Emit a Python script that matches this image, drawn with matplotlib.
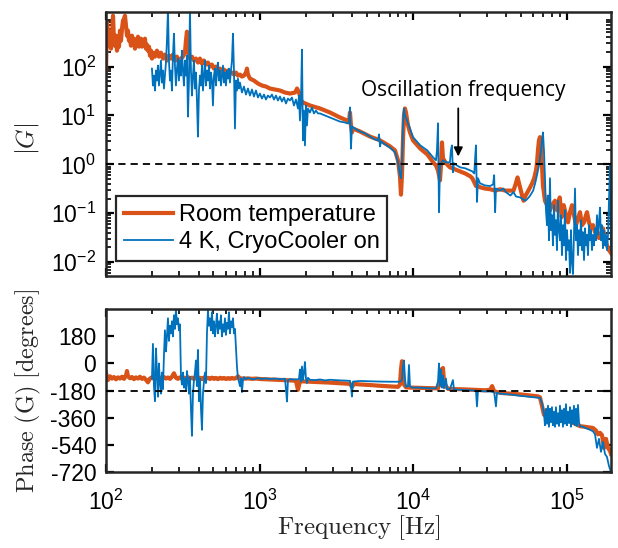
import matplotlib
matplotlib.use("Agg")
import matplotlib.pyplot as plt
from matplotlib.ticker import LogLocator, NullFormatter, FixedLocator

# ---------------- data ----------------
room_mag_f = [100, 101.5, 103, 104.6, 106.2, 107.8, 109.4, 111.1, 112.7, 114.4, 116.2, 117.9, 119.7, 121.5,
              123.3, 125.2, 127.1, 129, 131, 132.9, 134.9, 137, 139, 141.1, 143.3, 145.4, 147.6, 149.8, 152.1,
              154.4, 156.7, 159.1, 161.5, 163.9, 166.4, 168.9, 171.4, 174, 176.6, 179.3, 182, 184.8, 187.5,
              190.4, 193.3, 196.2, 199.1, 202.1, 208.3, 214.6, 221.1, 227.9, 234.8, 241.9, 249.3, 256.9,
              264.7, 272.7, 281, 289.6, 298.4, 307.5, 316.8, 326.5, 331.4, 336.4, 341.5, 346.7, 351.9, 362.6,
              373.6, 385, 396.7, 408.8, 421.3, 434.1, 447.2, 460.8, 474.8, 489.3, 504.2, 519.5, 535.3, 551.6,
              568.4, 585.7, 603.5, 621.9, 640.8, 660.3, 680.4, 701, 722.4, 744.3, 767, 790.3, 814.4, 826.7,
              839.2, 864.7, 918.1, 974.8, 1035, 1099, 1167, 1258, 1357, 1461, 1577, 1700, 1751, 1805, 1859,
              1916, 2127, 2470, 2870, 3334, 3700, 3812, 3870, 3927, 3987, 4047, 4500, 5227, 6071, 7052, 7600,
              7943, 8185, 8309, 8434, 8561, 8690, 8822, 8955, 9228, 9509, 9950, 11100, 12320, 13450, 14040,
              14470, 14910, 15130, 15360, 15590, 16310, 17300, 18670, 20150, 21750, 23470, 24180, 24920,
              25560, 26340, 27150, 29260, 31580, 34060, 36750, 39650, 42780, 44870, 46240, 47650, 49090,
              50590, 52130, 53710, 55350, 57570, 59320, 61130, 62810, 63760, 64720, 65700, 66690, 67690,
              68710, 69750, 71870, 74070, 77460, 79820, 83500, 86030, 89650, 92380, 95190, 98460, 101500,
              104600, 107800, 111100, 114400, 117900, 121500, 125200, 129000, 132900, 134900, 139000,
              143300, 147600, 152100, 156700, 161500, 166400, 171400, 176600, 182000, 187500, 193200]
room_mag = [83, 790, 543, 268, 373, 233, 429, 1100, 339, 268, 429, 212, 309, 256,
            543, 339, 597, 870, 954, 1100, 687, 429, 543, 339, 373, 268, 429, 309, 373,
            233, 339, 281, 409, 256, 309, 373, 256, 339, 281, 373, 233, 281, 212,
            256, 168, 212, 146, 193, 160, 212, 160, 193, 146, 176, 133, 168,
            146, 176, 133, 160, 121, 146, 160, 193, 339, 518, 268, 168, 146, 160,
            133, 146, 121, 146, 115, 133, 110, 121, 100, 110, 91, 100, 83, 91,
            79, 87, 75.5, 83, 72, 75.5, 68.7, 75.5, 65.5, 68.7, 62.5, 65.5, 75.5, 91,
            68.7, 56.9, 51.8, 45, 41, 39.1, 35.6, 34, 32.4, 29.5, 28.1, 29.5, 35.6, 29.5, 20.2,
            18.4, 16, 13.9, 11.5, 9.1, 7.9, 7.5, 11.5, 6.25, 4.5, 5.4, 4.7, 3.7, 3.1, 2.33, 1.93,
            1.21, 0.57, 0.24, 0.6, 3.1, 10, 13.9, 11.5, 6.25, 4.5, 3.1, 2.1, 1.6, 1.1, 0.95,
            0.75, 0.47, 0.95, 2.81, 1.33, 1.05, 0.87, 0.79, 0.72, 0.65, 0.57, 0.52, 0.43,
            0.36, 0.36, 0.34, 0.32, 0.31, 0.29, 0.31, 0.29, 0.29, 0.29, 0.39, 0.54, 0.37,
            0.256, 0.18, 0.23, 0.27, 0.34, 0.41, 0.52, 0.75, 1.05, 1.93, 3.1, 3.6, 2.44,
            0.95, 0.37, 0.18, 0.146, 0.115, 0.146, 0.18, 0.115, 0.21, 0.083, 0.146, 0.091, 0.065,
            0.105, 0.146, 0.091, 0.057, 0.079, 0.105, 0.057, 0.065, 0.091, 0.105, 0.065,
            0.049, 0.057, 0.041, 0.045, 0.031, 0.036, 0.049, 0.031, 0.022, 0.0176, 0.0153]

cryo_mag_f = [199.1, 202.1, 205.2, 208.3, 211.4, 214.6, 217.8, 221.1, 224.5, 227.9, 231.3, 234.8, 238.3,
              241.9, 245.6, 249.3, 253.1, 256.9, 260.8, 264.7, 268.7, 272.7, 276.9, 281, 285.3, 289.6, 294,
              298.4, 302.9, 307.5, 312.1, 316.8, 321.6, 326.5, 331.4, 336.4, 341.5, 346.7, 351.9, 357.2,
              362.6, 368.1, 373.6, 379.3, 385, 390.8, 396.7, 402.7, 408.8, 415, 421.3, 427.6, 434.1, 440.6,
              447.2, 454, 460.8, 467.8, 474.8, 482, 489.3, 496.7, 504.2, 511.8, 519.5, 527.4, 535.3, 543.4,
              551.6, 560, 568.4, 577, 585.7, 594.6, 603.5, 612.7, 621.9, 631.3, 640.8, 650.5, 660.3, 670.3,
              680.4, 690.7, 701, 711.6, 722.4, 733.3, 744.3, 767, 790.3, 814.4, 839.2, 864.7, 891, 918.1,
              946, 974.8, 1004, 1035, 1067, 1099, 1132, 1167, 1202, 1239, 1277, 1315, 1355, 1396, 1439,
              1483, 1528, 1574, 1622, 1672, 1723, 1775, 1802, 1829, 1857, 1885, 1913, 1942, 1971, 2001,
              2031, 2062, 2124, 2189, 2256, 2325, 2396, 2469, 2660, 2870, 3090, 3330, 3590, 3700, 3810,
              3870, 3927, 3987, 4170, 4500, 4850, 5227, 5630, 5890, 5980, 6071, 6160, 6540, 7052, 7600,
              7943, 8185, 8309, 8434, 8561, 8690, 8822, 9090, 9509, 9950, 11100, 12320, 13450, 14040,
              14250, 14470, 14690, 14910, 15590, 16310, 17300, 17560, 17830, 18100, 18370, 19220, 20150,
              21750, 23470, 24180, 24920, 25300, 25560, 25950, 26340, 27150, 29260, 31580, 33060, 33560,
              34060, 34490, 36750, 38470, 40070, 42780, 44870, 46550, 49580, 52130, 53710, 56290, 57570,
              60200, 62040, 63760, 65700, 67690, 68710, 69750, 70800, 71870, 72970, 74070, 75190, 76320,
              77460, 78630, 79820, 81020, 82250, 83490, 84760, 86030, 87330, 88650, 89990, 91350, 92730,
              94130, 95550, 96990, 98460, 99950, 101500, 103000, 104600, 106100, 107700, 109400, 111000,
              112700, 114400, 116100, 117900, 119700, 121500, 123300, 125200, 127000, 129000, 130900,
              132900, 134900, 136900, 139000, 141100, 143300, 145400, 147600, 149800, 152100, 154300,
              156700, 159100, 161500, 163900, 166400, 168900, 171400, 174000, 176600, 179300, 182000,
              184800, 187500, 190400, 193200]
cryo_mag = [91, 41, 65.5, 32.4, 83, 51.8, 105, 41, 75.5, 133, 47.1, 83, 35.6,
            65.5, 121, 339, 1500, 133, 51.8, 83, 32.4, 168, 471, 105, 41, 91, 146,
            51.8, 133, 65.5, 212, 83, 41, 133, 65.5, 168, 9.5, 51.8, 1500, 83,
            25.6, 65.5, 133, 35.6, 75.5, 20.2, 3.7, 32.4, 65.5, 41, 105, 32.4, 65.5, 133,
            41, 83, 51.8, 105, 35.6, 75.5, 51.8, 16, 65.5, 91, 41, 75.5, 121, 51.8,
            83, 41, 65.5, 105, 47.1, 75.5, 41, 83, 56.9, 91, 47.1, 83, 133, 471,
            83, 5.4, 51.8, 32.4, 56.9, 35.6, 47.1, 29.5, 39.1, 26.8, 35.6, 25.6, 34, 24.4,
            32.4, 23.3, 28.1, 22.2, 26.8, 21.2, 25.6, 23.3, 26.8, 21.2, 25.6, 20.2, 24.4, 19.3, 23.3,
            17.6, 22.2, 20.2, 23.3, 16, 21.2, 13.9, 25.6, 7.9, 20.2, 222, 3.1, 12.6, 2.44, 16,
            6.25, 13.9, 11.5, 14.6, 11, 12.6, 11, 11, 10, 9.1, 8.3, 7.5, 7.2, 6.9, 6.9,
            14.6, 2.1, 5.96, 5.4, 4.7, 4.3, 3.7, 3.24, 3.1, 4.1, 2.33, 2.95, 2.56, 2.2, 1.76,
            1.1, 0.6, 0.52, 1.21, 6.25, 13.9, 10, 7.9, 5.4, 3.6, 2.44, 1.93, 1.39, 1.21,
            1.93, 6.9, 0.105, 0.95, 1.21, 1.1, 1.1, 1.93, 2.44, 0.69, 1.05, 0.95, 0.87,
            0.83, 0.75, 0.72, 0.65, 1.53, 2.44, 0.17, 0.52, 0.41, 0.37, 0.36, 0.39, 0.6,
            0.105, 0.32, 0.29, 0.32, 0.27, 0.23, 0.27, 0.22, 0.21, 0.19, 0.18, 0.21, 0.23,
            0.29, 0.41, 0.6, 0.95, 1.93, 3.1, 4.5, 1.93, 0.54, 0.115, 0.057, 0.23, 0.028,
            0.52, 0.045, 0.091, 0.022, 0.146, 0.036, 0.072, 0.0176, 0.18, 0.045, 0.028, 0.091, 0.0139,
            0.057, 0.022, 0.115, 0.011, 0.045, 0.0176, 0.028, 0.006, 0.045, 0.01, 0.0057, 0.036,
            0.32, 0.028, 0.057, 0.0139, 0.045, 0.022, 0.072, 0.0176, 0.041, 0.011, 0.049,
            0.022, 0.036, 0.0139, 0.057, 0.028, 0.045, 0.0176, 0.036, 0.022, 0.049, 0.028,
            0.091, 0.036, 0.065, 0.13, 0.028, 0.057, 0.0193, 0.045, 0.022, 0.036, 0.0176,
            0.036, 0.18, 0.95, 0.0176]

room_phase_f = [100, 101.5, 103, 106.2, 109.4, 112.7, 116.2, 119.7, 123.3, 127.1, 131, 134.9, 137, 139,
                143.3, 147.6, 152.1, 156.7, 161.5, 166.4, 171.4, 176.6, 182, 187.5, 193.3, 199.1, 205.2,
                211.4, 217.8, 224.5, 231.3, 238.3, 245.6, 253.1, 260.8, 268.7, 276.9, 285.3, 294, 302.9,
                312.1, 321.6, 331.4, 341.5, 351.9, 362.6, 373.6, 385, 396.7, 408.8, 421.3, 434.1, 447.2,
                460.8, 474.8, 489.3, 504.2, 519.5, 535.3, 551.6, 568.4, 585.7, 603.5, 621.9, 640.8, 660.3,
                680.4, 701, 722.4, 744.3, 790.3, 839.2, 891, 946, 1004, 1167, 1355, 1574, 1723, 1775, 1829,
                2124, 2469, 2870, 3330, 3870, 3987, 4110, 4500, 5227, 6071, 7052, 7943, 8185, 8309, 8434,
                8561, 8690, 8955, 9509, 11100, 12900, 14470, 14910, 15130, 15360, 15590, 15830, 16310,
                16800, 18670, 21750, 25300, 29260, 31580, 32560, 33560, 36750, 42780, 49580, 57570,
                64720, 66690, 68710, 70800, 72970, 77460, 83500, 89990, 96990, 104600, 112700, 121500,
                130900, 141100, 147600, 154300, 159100, 163900, 168900, 174000, 179300, 184800, 190400,
                193200]
room_phase = [-60, -95, -110, -85, -100, -90, -105, -92, -100, -88, -102, -80, -50, -85,
              -98, -90, -104, -92, -100, -88, -102, -94, -108, -125, -100, -92, -102,
              -90, -100, -94, -103, -90, -100, -93, -102, -88, -65, -95, -102, -92,
              -100, -94, -103, -91, -101, -94, -103, -92, -100, -95, -104, -93, -101,
              -95, -103, -94, -102, -96, -104, -95, -101, -96, -103, -97, -102, -96,
              -101, -97, -85, -98, -101, -99, -102, -100, -103, -106, -109, -112, -115, -175, -118,
              -121, -124, -127, -131, -135, -155, -136, -139, -143, -148, -152, -155, -140, -40, 15,
              -60, -140, -158, -160, -162, -164, -165, -120, -40, -60, -30, -120, -150,
              -168, -170, -172, -175, -178, -175, -150, -185, -195, -200, -205, -212,
              -218, -225, -280, -340, -350, -355, -345, -365, -375, -385, -400, -416,
              -420, -425, -428, -445, -470, -460, -475, -560, -500, -560, -580,
              -600]

cryo_phase_f = [199.1, 202.1, 205.2, 208.3, 211.4, 214.6, 217.8, 221.1, 224.5, 227.9, 231.3, 234.8, 238.3,
                241.9, 245.6, 249.3, 253.1, 256.9, 260.8, 264.7, 268.7, 272.7, 276.9, 281, 285.3, 289.6,
                294, 298.4, 302.9, 307.5, 312.1, 316.8, 321.6, 326.5, 331.4, 336.4, 341.5, 346.7, 351.9,
                357.2, 362.6, 368.1, 373.6, 379.3, 385, 390.8, 396.7, 402.7, 408.8, 415, 421.3, 427.6,
                434.1, 440.6, 447.2, 454, 460.8, 467.8, 474.8, 482, 489.3, 496.7, 504.2, 511.8, 519.5,
                527.4, 535.3, 543.4, 551.6, 560, 568.4, 577, 585.7, 594.6, 603.5, 612.7, 621.9, 631.3,
                640.8, 650.5, 660.3, 670.3, 680.4, 690.7, 701, 711.6, 722.4, 733.3, 744.3, 755.6, 767,
                778.6, 790.3, 814.4, 839.2, 864.7, 918.1, 974.8, 1035, 1099, 1167, 1258, 1355, 1461, 1483,
                1506, 1528, 1574, 1700, 1802, 1829, 1857, 1885, 1913, 1942, 1971, 2001, 2031, 2062, 2124,
                2290, 2469, 2660, 2870, 3330, 3870, 3927, 3987, 4047, 4500, 5227, 6071, 7052, 8185, 8434,
                8561, 8690, 8822, 8955, 9228, 9368, 9509, 9799, 11100, 12900, 14040, 14470, 14690, 14910,
                15130, 15360, 15590, 15830, 16310, 16560, 17300, 18100, 18370, 20150, 23470, 25560, 25950,
                26340, 29260, 31580, 33560, 34490, 35010, 36750, 39650, 42780, 46240, 49580, 53710, 57570,
                62040, 66690, 68710, 70800, 71870, 72970, 74070, 75190, 76320, 77460, 78630, 79820, 81020,
                82250, 83490, 84760, 86030, 87330, 88650, 89990, 91350, 92730, 94130, 95550, 96990, 98460,
                99950, 101500, 103000, 104600, 106100, 107700, 109400, 111000, 112700, 114400, 116100,
                117900, 119700, 121500, 127000, 132900, 141100, 147600, 152100, 156700, 161500, 166400,
                171400, 176600, 182000, 187500, 193200]
cryo_phase = [-100, 130, -150, -250, 100, -50, -220, 0, -130, -200, -60, -170, 50,
              220, 80, 180, 300, 150, 250, 200, 280, 180, 320, 230, 360, 260,
              300, 220, 260, -80, -140, -60, -160, -100, -180, -50, -120, -200, -90,
              -300, -480, -200, -110, -60, 20, -150, 90, -250, -100, -300, -440, -200,
              -120, -60, -130, 200, 350, 250, 300, 220, 340, 200, 280, 180, 250,
              330, 200, 280, 230, 320, 180, 260, 210, 300, 190, 270, 230, 340,
              200, 280, 240, 300, 200, 230, 100, -20, -100, -120, -150, -100, -190,
              -110, -90, -105, -95, -100, -105, -97, -103, -99, -103, -100, -104, -101, -170,
              -252, -110, -104, -106, -104, -40, -120, -20, -110, -60, 10, -100, -130, -95, -108,
              -110, -106, -112, -108, -112, -115, -150, -219, -120, -116, -118, -120, -121, -121, -110,
              -20, 20, -100, -155, -150, -10, -150, -160, -160, -165, -165, -120, 0, -150,
              -40, -160, -80, -165, -100, -170, -170, -110, -172, -175, -178, -180, -285,
              -182, -185, -186, -190, -285, -195, -200, -203, -206, -210, -215, -218, -222,
              -225, -228, -260, -330, -410, -300, -400, -280, -420, -300, -390, -290, -410,
              -320, -420, -290, -400, -330, -415, -280, -390, -310, -420, -300, -400, -270,
              -410, -320, -395, -290, -420, -310, -400, -280, -410, -300, -415,
              -275, -390, -416, -420, -430, -440, -450, -470, -560, -500, -586,
              -520, -600, -620, -680, -720]

mag_ticks = [1e-2, 1e-1, 1e0, 1e1, 1e2]
phase_ticks = [-720, -540, -360, -180, 0, 180]
freq_ticks = [1e2, 1e3, 1e4, 1e5]
series_labels = ["Room temperature", "4 K, CryoCooler on"]
annotation_text = "Oscillation frequency"
osc_freq = 19600

# ---------------- style ----------------
plt.rcParams['font.family'] = ['Liberation Sans', 'DejaVu Sans']
plt.rcParams['axes.unicode_minus'] = False
ORANGE = '#D95319'
BLUE = '#0072BD'

fig = plt.figure(figsize=(6.18, 5.48), dpi=100)
ax1 = fig.add_axes([0.1715, 0.4964, 0.817, 0.482])
ax2 = fig.add_axes([0.1715, 0.1387, 0.817, 0.297])

ax1.plot(room_mag_f, room_mag, color=ORANGE, lw=3.0, label=series_labels[0], solid_joinstyle='round')
ax1.plot(cryo_mag_f, cryo_mag, color=BLUE, lw=1.3, label=series_labels[1])
ax1.axhline(1.0, color='black', lw=1.3, ls=(0, (4, 2.8)), zorder=3)
ax1.set_xscale('log')
ax1.set_yscale('log')
ax1.set_xlim(100, 1.93e5)
ax1.set_ylim(0.0052, 1320)

ax2.plot(room_phase_f, room_phase, color=ORANGE, lw=3.0, solid_joinstyle='round')
ax2.plot(cryo_phase_f, cryo_phase, color=BLUE, lw=1.3)
ax2.axhline(-180, color='black', lw=1.3, ls=(0, (4, 2.8)), zorder=3)
ax2.set_xscale('log')
ax2.set_xlim(100, 1.93e5)
ax2.set_ylim(-720, 360)
ax2.yaxis.set_major_locator(FixedLocator(phase_ticks))

for ax in (ax1, ax2):
    ax.xaxis.set_major_locator(FixedLocator(freq_ticks))
    ax.xaxis.set_minor_locator(LogLocator(base=10, subs=range(2, 10), numticks=20))
    ax.xaxis.set_minor_formatter(NullFormatter())
    ax.tick_params(which='both', direction='in', top=True, right=True, labelsize=16.5, colors='black')
    ax.tick_params(which='major', length=6, width=1.6)
    ax.tick_params(which='minor', length=3.5, width=1.2)
    for s in ax.spines.values():
        s.set_linewidth(1.8)
        s.set_color('#262626')

ax1.yaxis.set_major_locator(FixedLocator(mag_ticks))
ax1.yaxis.set_minor_locator(LogLocator(base=10, subs=range(2, 10), numticks=20))
ax1.yaxis.set_minor_formatter(NullFormatter())
ax1.tick_params(axis='x', which='both', labelbottom=False)
ax1.tick_params(axis='y', pad=7)
ax2.tick_params(axis='y', pad=7)
ax2.tick_params(axis='x', pad=13)

ax1.set_ylabel(r'$|G|$', fontsize=18, math_fontfamily='cm', color='#262626')
ax1.yaxis.set_label_coords(-0.128, 0.52)
ax2.set_ylabel(r'$\mathrm{Phase\ (G)\ [degrees]}$', fontsize=17.5, math_fontfamily='cm', color='#262626')
ax2.yaxis.set_label_coords(-0.125, 0.5)
ax2.set_xlabel(r'$\mathrm{Frequency\ [Hz]}$', fontsize=18, math_fontfamily='cm', color='#262626')
ax2.xaxis.set_label_coords(0.5, -0.255)

leg = ax1.legend(loc='lower left', bbox_to_anchor=(0.0198, 0.058), fontsize=17, frameon=True,
                 fancybox=False, edgecolor='#262626', framealpha=1, borderaxespad=0,
                 handlelength=2.1, handletextpad=0.25, labelspacing=0.22, borderpad=0.32)
leg.get_frame().set_linewidth(1.6)

ax1.text(21100, 32, annotation_text, ha='center', va='center', fontsize=15,
         fontfamily=['Open Sans', 'DejaVu Sans'], color='black')
ax1.annotate('', xy=(osc_freq, 1.45), xytext=(osc_freq, 14),
             arrowprops=dict(arrowstyle='-|>', color='black', lw=1.3, mutation_scale=13,
                             shrinkA=0, shrinkB=0))

fig.savefig('out.png', dpi=100)
